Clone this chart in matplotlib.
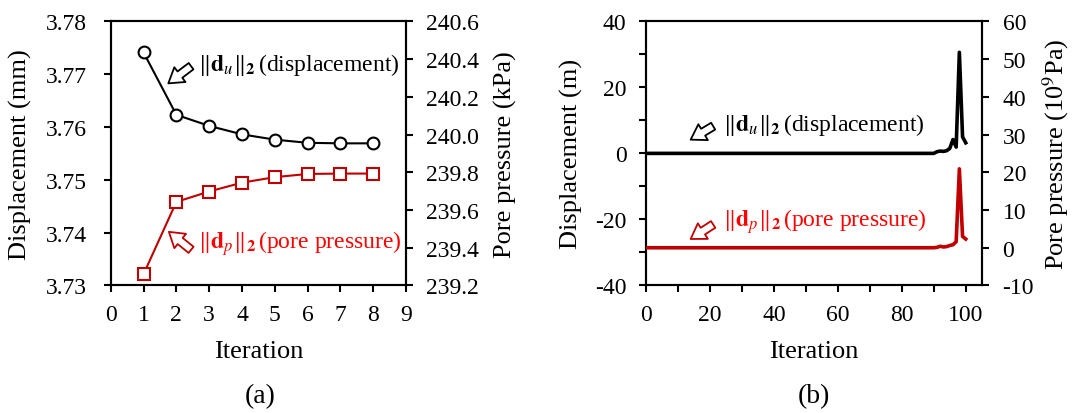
import numpy as np
import matplotlib.pyplot as plt
from matplotlib.ticker import MultipleLocator, FormatStrFormatter

plt.rcParams['font.family'] = ['Liberation Serif', 'DejaVu Serif']
plt.rcParams['mathtext.fontset'] = 'stix'
plt.rcParams['axes.unicode_minus'] = False

# (a) 收敛过程：位移与孔压范数
iter_a = [1, 2, 3, 4, 5, 6, 7, 8]
disp_a = [3.7741, 3.7623, 3.7602, 3.7586, 3.7576, 3.7570, 3.7569, 3.7569]
pres_a = [239.260, 239.643, 239.698, 239.745, 239.774, 239.791, 239.793, 239.793]

# (b) 发散过程
iter_b = list(range(0, 101))
disp_b = [0.0] * 91 + [0.5, 0.7, 0.6, 0.8, 1.5, 4.2, 1.9, 30.6, 5.0, 3.2]
pres_b = [0.0] * 91 + [0.1, 0.4, 0.2, 0.3, 0.6, 0.8, 1.6, 20.9, 3.0, 2.3]

RED_LINE = '#C00000'
RED_TEXT = '#FF0000'
TICK_FS = 17
LABEL_FS = 19
NOTE_FS = 17

fig = plt.figure(figsize=(10.74, 4.14), dpi=100)
ax_a = fig.add_axes([0.1031, 0.3080, 0.2750, 0.6382])
ax_b = fig.add_axes([0.6015, 0.3080, 0.3126, 0.6382])


def style_axes(ax, left_pad, right=None, right_pad=9):
    for s in ax.spines.values():
        s.set_linewidth(1.5)
    ax.tick_params(which='both', direction='out', length=5, width=1.5,
                   labelsize=TICK_FS, top=False, right=False)
    ax.tick_params(axis='y', pad=left_pad)
    ax.tick_params(axis='x', pad=8.5)
    if right is not None:
        for s in right.spines.values():
            s.set_linewidth(1.5)
        right.tick_params(which='both', direction='out', length=5, width=1.5,
                          labelsize=TICK_FS, pad=right_pad)


def hollow_arrow(ax, tail, head, color):
    ax.annotate('', xy=head, xytext=tail, xycoords='axes fraction',
                textcoords='axes fraction',
                arrowprops=dict(arrowstyle='simple,head_length=0.55,head_width=0.7,tail_width=0.3',
                                fc='white', ec=color, lw=1.3, mutation_scale=19,
                                shrinkA=0, shrinkB=0))


NOTE_U = r'$\Vert\mathbf{d}_{u}\Vert_{\mathbf{2}}\,$(displacement)'
NOTE_P = r'$\Vert\mathbf{d}_{p}\Vert_{\mathbf{2}}\,$(pore pressure)'

# ---------- (a) ----------
ax_a2 = ax_a.twinx()
ax_a.plot(iter_a, disp_a, '-o', color='black', lw=1.5, ms=8.5, mew=1.5,
          mfc='white', mec='black', zorder=3)
ax_a2.plot(iter_a, pres_a, '-s', color=RED_LINE, lw=1.5, ms=8.5, mew=1.5,
           mfc='white', mec=RED_LINE, zorder=3)

ax_a.set_xlim(0, 9)
ax_a.set_ylim(3.73, 3.78)
ax_a2.set_ylim(239.2, 240.6)
ax_a.xaxis.set_major_locator(MultipleLocator(1))
ax_a.yaxis.set_major_locator(MultipleLocator(0.01))
ax_a.yaxis.set_major_formatter(FormatStrFormatter('%.2f'))
ax_a2.yaxis.set_major_locator(MultipleLocator(0.2))
ax_a2.yaxis.set_major_formatter(FormatStrFormatter('%.1f'))
style_axes(ax_a, 12, ax_a2, 9)

ax_a.set_xlabel('Iteration', fontsize=LABEL_FS, va='center')
ax_a.xaxis.set_label_coords(0.5, -0.248)
ax_a.set_ylabel('Displacement (mm)', fontsize=LABEL_FS, va='center')
ax_a.yaxis.set_label_coords(-0.304, 0.5)
ax_a2.set_ylabel('Pore pressure (kPa)', fontsize=LABEL_FS, va='center')
ax_a2.yaxis.set_label_coords(1.338, 0.5)

ax_a.text(0.296, 0.839, NOTE_U, transform=ax_a.transAxes, fontsize=NOTE_FS,
          va='center', ha='left')
ax_a.text(0.296, 0.164, NOTE_P, transform=ax_a.transAxes, fontsize=NOTE_FS,
          va='center', ha='left', color=RED_TEXT)
hollow_arrow(ax_a, (0.272, 0.830), (0.195, 0.765), 'black')
hollow_arrow(ax_a, (0.272, 0.135), (0.197, 0.203), RED_LINE)

# ---------- (b) ----------
ax_b2 = ax_b.twinx()
ax_b.plot(iter_b, disp_b, '-', color='black', lw=2.6, solid_joinstyle='round', zorder=3)
ax_b2.plot(iter_b, pres_b, '-', color=RED_LINE, lw=2.6, solid_joinstyle='round', zorder=3)

ax_b.set_xlim(0, 105)
ax_b.set_ylim(-40, 40)
ax_b2.set_ylim(-10, 60)
ax_b.xaxis.set_major_locator(MultipleLocator(20))
ax_b.xaxis.set_minor_locator(MultipleLocator(10))
ax_b.yaxis.set_major_locator(MultipleLocator(20))
ax_b.yaxis.set_minor_locator(MultipleLocator(10))
ax_b2.yaxis.set_major_locator(MultipleLocator(10))
style_axes(ax_b, 9, ax_b2, 10)

ax_b.set_xlabel('Iteration', fontsize=LABEL_FS, va='center')
ax_b.xaxis.set_label_coords(0.5, -0.248)
ax_b.set_ylabel('Displacement (m)', fontsize=LABEL_FS, va='center')
ax_b.yaxis.set_label_coords(-0.221, 0.5)
ax_b2.set_ylabel(r'Pore pressure (10$^{9}$Pa)', fontsize=LABEL_FS, va='center')
ax_b2.yaxis.set_label_coords(1.220, 0.5)

ax_b.text(0.230, 0.612, NOTE_U, transform=ax_b.transAxes, fontsize=NOTE_FS,
          va='center', ha='left')
ax_b.text(0.230, 0.246, NOTE_P, transform=ax_b.transAxes, fontsize=NOTE_FS,
          va='center', ha='left', color=RED_TEXT)
hollow_arrow(ax_b, (0.200, 0.603), (0.133, 0.552), 'black')
hollow_arrow(ax_b, (0.200, 0.231), (0.133, 0.176), RED_LINE)

fig.text(260 / 1074, 1 - 396.7 / 414, '(a)', fontsize=20, ha='center', va='center')
fig.text(813.9 / 1074, 1 - 396.7 / 414, '(b)', fontsize=20, ha='center', va='center')

fig.savefig('out.png', dpi=100)
